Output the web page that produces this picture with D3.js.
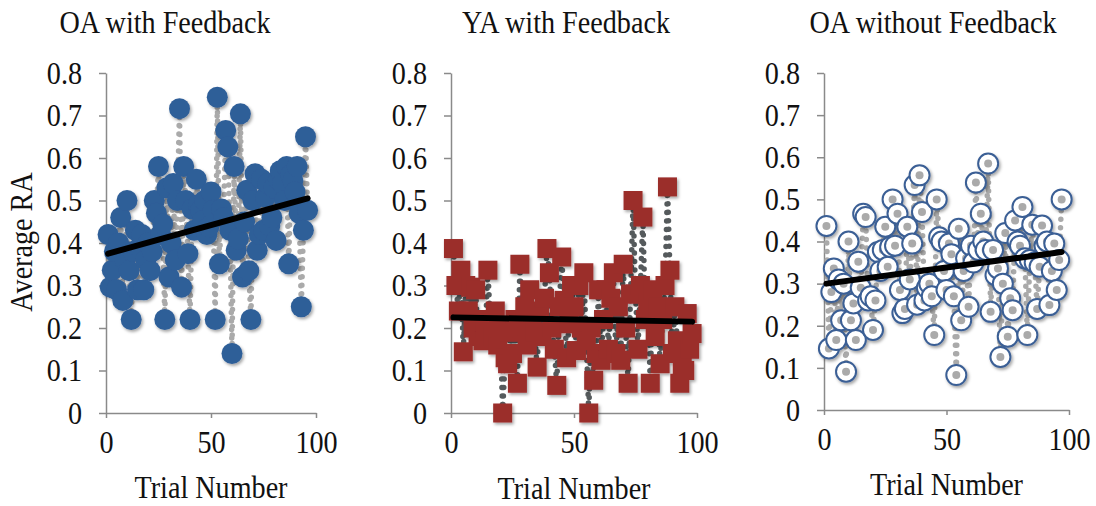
<!DOCTYPE html>
<html>
<head>
<meta charset="utf-8">
<title>Average RA by Trial</title>
<script src="https://d3js.org/d3.v7.min.js"></script>
<style>
  body { margin: 0; background: #fff; }
  text { font-family: "Liberation Serif", "Times New Roman", serif; fill: #111; }
  .axis path, .axis line { stroke: #8a8a8a; stroke-width: 1.5; }
</style>
</head>
<body>
<div id="chart"></div>
<script>
// average RA per trial (trial number = position + 1)
const oaFeedback = [
  0.42, 0.296, 0.336, 0.38, 0.29, 0.40, 0.46, 0.265, 0.36, 0.50,
  0.335, 0.22, 0.38, 0.43, 0.29, 0.39, 0.42, 0.29, 0.36, 0.40,
  0.335, 0.38, 0.50, 0.47, 0.58, 0.42, 0.445, 0.22, 0.53, 0.32,
  0.40, 0.54, 0.36, 0.50, 0.716, 0.296, 0.58, 0.50, 0.375, 0.22,
  0.48, 0.43, 0.55, 0.49, 0.477, 0.453, 0.50, 0.42, 0.438, 0.52,
  0.477, 0.22, 0.743, 0.351, 0.48, 0.46, 0.665, 0.626, 0.43, 0.14,
  0.58, 0.383, 0.41, 0.704, 0.32, 0.45, 0.524, 0.335, 0.22, 0.50,
  0.563, 0.383, 0.42, 0.55, 0.43, 0.508, 0.54, 0.44, 0.46, 0.53,
  0.406, 0.55, 0.57, 0.54, 0.50, 0.58, 0.351, 0.56, 0.547, 0.52,
  0.58, 0.47, 0.25, 0.43, 0.65, 0.477
];
const yaFeedback = [
  0.387, 0.30, 0.24, 0.336, 0.144, 0.30, 0.24, 0.296, 0.20, 0.29,
  0.18, 0.22, 0.17, 0.20, 0.336, 0.21, 0.18, 0.24, 0.16, 0.20,
  0.0, 0.13, 0.116, 0.19, 0.14, 0.22, 0.07, 0.35, 0.20, 0.25,
  0.16, 0.29, 0.22, 0.19, 0.108, 0.24, 0.18, 0.27, 0.387, 0.33,
  0.20, 0.15, 0.065, 0.25, 0.367, 0.265, 0.13, 0.21, 0.30, 0.25,
  0.147, 0.30, 0.20, 0.33, 0.17, 0.0, 0.20, 0.077, 0.14, 0.29,
  0.124, 0.22, 0.29, 0.15, 0.27, 0.33, 0.14, 0.25, 0.124, 0.35,
  0.20, 0.07, 0.28, 0.50, 0.28, 0.15, 0.30, 0.461, 0.22, 0.26,
  0.07, 0.29, 0.18, 0.25, 0.116, 0.22, 0.30, 0.532, 0.336, 0.14,
  0.25, 0.17, 0.07, 0.108, 0.10, 0.234, 0.15, 0.187
];
const oaNoFeedback = [
  0.437, 0.146, 0.28, 0.336, 0.166, 0.31, 0.213, 0.30, 0.091, 0.40,
  0.213, 0.253, 0.166, 0.352, 0.29, 0.466, 0.458, 0.26, 0.27, 0.19,
  0.26, 0.375, 0.33, 0.38, 0.435, 0.34, 0.387, 0.50, 0.39, 0.466,
  0.285, 0.23, 0.24, 0.435, 0.31, 0.395, 0.534, 0.25, 0.557, 0.47,
  0.26, 0.29, 0.30, 0.27, 0.178, 0.50, 0.41, 0.40, 0.33, 0.285,
  0.395, 0.37, 0.27, 0.083, 0.43, 0.213, 0.33, 0.36, 0.245, 0.39,
  0.35, 0.54, 0.38, 0.466, 0.40, 0.38, 0.585, 0.233, 0.38, 0.32,
  0.336, 0.126, 0.30, 0.42, 0.174, 0.265, 0.237, 0.45, 0.40, 0.39,
  0.482, 0.36, 0.178, 0.356, 0.44, 0.35, 0.24, 0.34, 0.438, 0.39,
  0.40, 0.249, 0.33, 0.395, 0.285, 0.356, 0.50
];

// linear trend, value at first and last trial
const trendOaFeedback = [0.375, 0.505];
const trendYaFeedback = [0.225, 0.215];
const trendOaNoFeedback = [0.30, 0.375];

const titles = ["OA with Feedback", "YA with Feedback", "OA without Feedback"];
const yTicks = [0, 0.1, 0.2, 0.3, 0.4, 0.5, 0.6, 0.7, 0.8];
const yTickLabels = ["0", "0.1", "0.2", "0.3", "0.4", "0.5", "0.6", "0.7", "0.8"];
const xTicks = [0, 50, 100];
const xTickLabels = ["0", "50", "100"];

const FS = 32, SX = 0.88;

const svg = d3.select("#chart").append("svg")
    .attr("width", 1096)
    .attr("height", 506);

const defs = svg.append("defs");
defs.append("filter")
    .attr("id", "shadow")
    .attr("x", "-50%").attr("y", "-50%")
    .attr("width", "200%").attr("height", "200%")
  .append("feDropShadow")
    .attr("dx", 1.5).attr("dy", 2)
    .attr("stdDeviation", 1.5)
    .attr("flood-color", "#000")
    .attr("flood-opacity", 0.35);

function label(g, x, y, str, anchor, rot) {
    g.append("text")
        .attr("transform", `translate(${x},${y})${rot ? " rotate(-90)" : ""} scale(${SX},1)`)
        .attr("text-anchor", anchor)
        .style("font-size", FS + "px")
        .text(str);
}

const panels = [
    { title: titles[0], values: oaFeedback, trend: trendOaFeedback,
      x0: 106, x1: 316, y0: 413, y1: 73, marker: "dot", line: "#aaaaaa",
      titleX: 165, xLabelY: 498 },
    { title: titles[1], values: yaFeedback, trend: trendYaFeedback,
      x0: 451, x1: 697, y0: 413, y1: 73, marker: "square", line: "#555a5c",
      titleX: 566, xLabelY: 499 },
    { title: titles[2], values: oaNoFeedback, trend: trendOaNoFeedback,
      x0: 824, x1: 1069, y0: 410, y1: 73, marker: "ring", line: "#aaaaaa",
      titleX: 933, xLabelY: 495 }
];

panels.forEach(p => {
    const x = d3.scaleLinear().domain([0, 100]).range([p.x0, p.x1]);
    const y = d3.scaleLinear().domain([0, 0.8]).range([p.y0, p.y1]);
    const g = svg.append("g");

    // axes
    const ya = g.append("g")
        .attr("class", "axis")
        .attr("transform", `translate(${p.x0},0)`)
        .call(d3.axisLeft(y).tickValues(yTicks).tickSize(7).tickSizeOuter(0)
            .tickFormat((d, i) => yTickLabels[i]));
    ya.selectAll("text")
        .attr("x", -24 / SX)
        .attr("transform", `scale(${SX},1)`)
        .style("font-size", FS + "px");

    const xa = g.append("g")
        .attr("class", "axis")
        .attr("transform", `translate(0,${p.y0})`)
        .call(d3.axisBottom(x).tickValues(xTicks).tickSize(5).tickSizeOuter(0)
            .tickPadding(12).tickFormat((d, i) => xTickLabels[i]));
    xa.selectAll("text")
        .attr("transform", `scale(${SX},1)`)
        .style("font-size", FS + "px");

    const pts = p.values.map((v, i) => ({ t: i + 1, v: v }));

    // dotted connecting line
    g.append("path")
        .datum(pts)
        .attr("fill", "none")
        .attr("stroke", p.line)
        .attr("stroke-width", 5.5)
        .attr("stroke-linecap", "round")
        .attr("stroke-dasharray", "0 8.5")
        .attr("d", d3.line().x(d => x(d.t)).y(d => y(d.v)));

    const m = g.append("g").attr("filter", "url(#shadow)");
    if (p.marker === "dot") {
        m.selectAll("circle").data(pts).join("circle")
            .attr("cx", d => x(d.t)).attr("cy", d => y(d.v))
            .attr("r", 10.5)
            .attr("fill", "#2f5e98");
    } else if (p.marker === "square") {
        m.selectAll("rect").data(pts).join("rect")
            .attr("x", d => x(d.t) - 9.5).attr("y", d => y(d.v) - 9.5)
            .attr("width", 19).attr("height", 19)
            .attr("fill", "#9b2e2c");
    } else {
        const rg = m.selectAll("g").data(pts).join("g")
            .attr("transform", d => `translate(${x(d.t)},${y(d.v)})`);
        rg.append("circle").attr("r", 10)
            .attr("fill", "#fff")
            .attr("stroke", "#3b5f95")
            .attr("stroke-width", 2);
        rg.append("circle").attr("r", 4).attr("fill", "#aaaaaa");
    }

    // trend line
    const n = p.values.length;
    g.append("line")
        .attr("x1", x(1)).attr("y1", y(p.trend[0]))
        .attr("x2", x(n)).attr("y2", y(p.trend[1]))
        .attr("stroke", "#000")
        .attr("stroke-width", 6)
        .attr("stroke-linecap", "round");

    label(g, p.titleX, 33, p.title, "middle");
    label(g, (p.x0 + p.x1) / 2, p.xLabelY, "Trial Number", "middle");
});

label(svg, 32, 242, "Average RA", "middle", true);
</script>
</body>
</html>
